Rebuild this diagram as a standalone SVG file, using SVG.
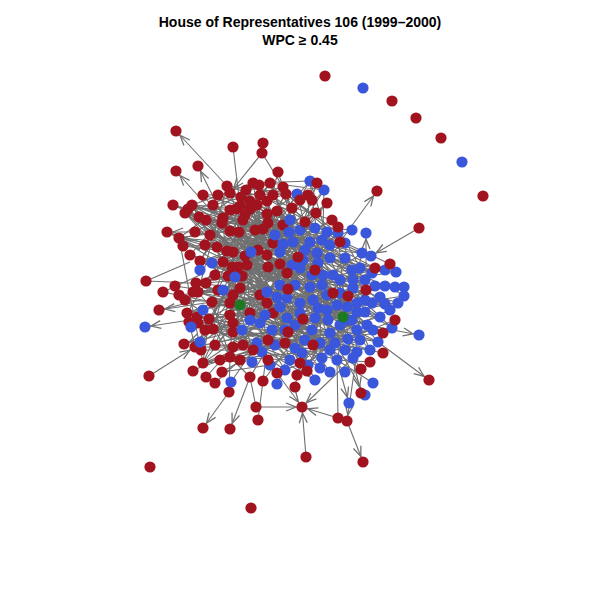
<svg xmlns="http://www.w3.org/2000/svg" width="600" height="600" viewBox="0 0 600 600">
<style>
.e path{stroke:#707070;stroke-width:1.1;fill:none}
.e .a{marker-end:url(#ah)}
.r circle{fill:#A1141F}
.b circle{fill:#3A56DB}
.g circle{fill:#1E7A22}
circle{r:5.6px}
text{font-family:"Liberation Sans",Arial,sans-serif;font-weight:bold;font-size:14px;text-anchor:middle;fill:#000}
</style>
<defs>
<marker id="ah" markerUnits="userSpaceOnUse" markerWidth="20" markerHeight="20" refX="16" refY="4" orient="auto" overflow="visible"><path d="M0,0L10,4L0,8" fill="none" stroke="#707070" stroke-width="1.3"/></marker>
</defs>
<rect width="600" height="600" fill="#fff"/>
<text x="300" y="27">House of Representatives 106 (1999–2000)</text>
<text x="300" y="45">WPC ≥ 0.45</text>
<g id="edges" class="e">
<path d="M227,186L297,194M253,183L310,181M270,183L324,190M286,194L338,233M250,201L289,232M236,209L283,244M277,211L293,242M268,223L322,240M192,205L345,243M185,213L362,253M206,220L372,273M222,223L360,268M239,232L340,280M263,229L317,253M179,238L303,260M217,247L295,285M245,256L327,295M267,255L310,287M200,261L385,286M232,267L353,288M227,186L283,244M253,183L293,242M270,183L322,240M286,194L345,243M250,201L362,253M236,209L372,273M277,211L360,268M268,223L340,280M192,205L317,253M185,213L303,260M206,220L295,285M222,223L327,295M239,232L310,287M263,229L385,286M179,238L353,288M217,247L297,194M245,256L310,181M267,255L324,190M200,261L338,233M232,267L289,232"/>
<path d="M247,265L287,318M228,276L300,313M196,283L312,330M198,292L328,320M212,302L330,333M187,313L320,343M209,319L348,339M213,329L357,330M233,295L367,325M230,315L378,342M233,332L370,350M250,313L357,352M260,295L337,360M273,313L322,358M243,345L308,365M230,357L290,360M195,347L357,312M203,363L347,307M253,350L380,317M268,340L313,300M247,265L357,330M228,276L367,325M196,283L378,342M198,292L370,350M212,302L357,352M187,313L337,360M209,319L322,358M213,329L308,365M233,295L290,360M230,315L357,312M233,332L347,307M250,313L380,317M260,295L313,300M273,313L287,318M243,345L300,313M230,357L312,330M195,347L328,320M203,363L330,333M253,350L320,343M268,340L348,339"/>
<path d="M227,186L198,292M253,183L212,302M270,183L187,313M286,194L209,319M250,201L213,329M236,209L233,295M277,211L230,315M268,223L233,332M192,205L250,313M185,213L260,295M206,220L273,313M222,223L243,345M239,232L230,357M263,229L195,347M179,238L203,363M217,247L253,350M245,256L268,340M267,255L247,265M200,261L228,276M232,267L196,283"/>
<path d="M297,194L328,320M310,181L330,333M324,190L320,343M338,233L348,339M289,232L357,330M283,244L367,325M293,242L378,342M322,240L370,350M345,243L357,352M362,253L337,360M372,273L322,358M360,268L308,365M340,280L290,360M317,253L357,312M303,260L347,307M295,285L380,317M327,295L313,300M310,287L287,318M385,286L300,313M353,288L312,330"/>
<path d="M227,186L370,350M253,183L357,352M270,183L337,360M286,194L322,358M250,201L308,365M236,209L290,360M277,211L357,312M268,223L347,307M192,205L380,317M185,213L313,300M206,220L287,318M222,223L300,313M239,232L312,330M263,229L328,320M179,238L330,333M217,247L320,343M245,256L348,339M267,255L357,330M200,261L367,325M232,267L378,342"/>
<path d="M247,265L340,280M228,276L317,253M196,283L303,260M198,292L295,285M212,302L327,295M187,313L310,287M209,319L385,286M213,329L353,288M233,295L297,194M230,315L310,181M233,332L324,190M250,313L338,233M260,295L289,232M273,313L283,244M243,345L293,242M230,357L322,240M195,347L345,243M203,363L362,253M253,350L372,273M268,340L360,268"/>
<path d="M332,220L227,186M340,242L253,183M298,257L270,183M315,270L286,194M287,273L250,201M288,289L236,209M333,293L277,211M366,290L268,223M375,268L192,205M303,319L185,213M313,345L206,220M288,332L222,223M300,363L239,232M361,369L263,229M383,333L179,238M316,213L217,247M308,195L245,256M327,203L267,255M332,220L247,265M340,242L228,276M298,257L196,283M315,270L198,292M287,273L212,302M288,289L187,313M333,293L209,319M366,290L213,329M375,268L233,295M303,319L230,315M313,345L233,332M288,332L250,313M300,363L260,295M361,369L273,313M383,333L243,345M316,213L230,357M308,195L195,347M327,203L203,363"/>
<path d="M227,186L268,223M253,183L192,205M270,183L185,213M286,194L206,220M250,201L222,223M236,209L239,232M277,211L263,229M268,223L179,238M192,205L217,247M185,213L245,256M206,220L267,255M222,223L200,261M239,232L232,267M263,229L227,186M179,238L253,183M217,247L270,183M245,256L286,194M267,255L250,201M200,261L236,209M232,267L277,211M247,265L230,315M228,276L233,332M196,283L250,313M198,292L260,295M212,302L273,313M187,313L243,345M209,319L230,357M213,329L195,347M233,295L203,363M230,315L253,350M233,332L268,340M250,313L247,265M260,295L228,276M273,313L196,283M243,345L198,292M230,357L212,302M195,347L187,313M203,363L209,319M253,350L213,329M268,340L233,295"/>
<path d="M210,235L345,258M195,232L352,270M205,245L365,280M190,255L348,320M215,275L365,312M218,290L372,303M205,330L360,340M215,345L345,350M220,360L330,350M222,372L315,318M185,300L318,308M245,240L337,305M240,245L292,265M253,270L330,258M262,272L305,250M255,240L318,263M245,215L312,275M213,205L322,285M218,195L300,230M203,195L315,228M260,195L327,232M273,195L290,220M243,220L352,320M273,243L390,310M283,225L392,328M210,235L373,330M195,232L385,270M205,245L353,280M190,255L365,300M215,275L295,325M218,290L305,340M205,330L295,348M215,345L275,345M220,360L262,352M222,372L270,365M185,300L285,370M245,240L315,380M240,245L330,372M253,270L345,372M262,272L250,320M255,240L265,315M245,215L275,235M213,205L263,240M218,195L250,244M203,195L270,280M260,195L258,285"/>
<path d="M227,186L250,244M230,193L290,220M253,183L263,240M259,185L275,235M270,183L243,220M283,187L213,205M286,194L203,195M267,201L210,235M250,201L195,232M240,206L205,245M230,210L190,255M250,209L215,275M257,205L218,290M277,211L185,300M267,214L205,330M268,223L215,345M192,205L253,270M188,209L262,272M185,213L255,240M199,217L273,243M206,220L283,225M223,218L300,230M222,223L315,228M230,231L327,232M305,250L352,230M318,263L372,303M330,258L390,310M345,258L295,325M352,270L305,340M365,280L295,348M348,320L270,365M360,340L285,370M330,350L315,228M315,318L327,232M318,308L290,220M337,305L300,230M292,265L392,328M312,275L373,330M322,285L385,270"/>
<path d="M240,206L330,258M250,209L345,258M257,205L318,263M267,214L352,270M268,223L365,280M277,211L312,275M286,194L322,285M283,187L300,268M270,183L303,260M259,185L292,265M246,190L280,285M241,197L295,285M230,210L287,298M223,218L300,303M222,223L313,300M230,231L327,310M239,232L318,308M255,230L337,305M263,229L348,320M243,220L340,325M245,256L352,320M258,250L365,312M267,255L372,303M260,258L380,297M232,267L357,303M238,267L347,307M247,265L327,310M268,267L315,318M280,264L295,325M228,276L312,330M242,276L305,340M233,295L295,348M240,288L302,353M230,303L290,360M250,313L285,370M260,295L308,365M267,303L320,368M273,313L330,350M233,323L330,372M233,332L315,380M243,345L345,350M253,350L360,340M268,340L373,330M285,343L392,328M288,332L385,304M303,319L398,303M313,345L390,310M300,363L365,312M297,375L352,320M307,371L348,320M277,373L337,305M263,381L318,308M250,377L312,275M240,360L322,285M230,357L300,268M215,345L292,265M213,329L305,250M198,323L318,263M187,313L330,258M196,283L345,258M206,283L352,270M198,292L365,280M212,302L372,303M209,319L380,297M200,261L300,230M217,247L315,228M227,251L327,232M233,252L290,220M223,262L338,233M206,220L352,230M199,217L322,240M192,205L310,242M185,213L330,245M183,246L345,243M179,238L362,253"/>
<path d="M233,147L240,206M263,143L262,153M262,153L283,187M278,172L283,187M278,172L267,214M173,205L223,218M173,205L206,220M167,232L217,247M146,281L196,283M163,292L212,302M175,286L233,295M179,295L240,288M184,344L233,332M193,371L243,345M258,420L263,381M256,407L250,377M338,418L337,360M396,272L360,268M396,272L340,280M404,287L353,288M404,296L357,303M398,303L347,307M385,304L340,293M395,287L327,295M373,383L337,360M365,395L330,333M395,320L348,339M383,333L340,323M383,353L335,343M370,362L337,360M310,181L330,245M317,183L297,240M375,268L322,240M390,264L345,243M390,264L340,280M308,195L310,250M327,203L283,244M332,220L280,252M250,377L230,357M263,381L268,340M229,392L230,357M215,383L240,360M206,377L233,347M277,384L290,360M295,387L300,363M297,375L313,345M307,371L320,343M231,382L253,350M193,370L230,357M183,246L233,252M179,238L230,231M185,213L230,231M188,209L236,209M192,205L250,209M200,261L245,256M196,283L240,288M198,292L230,303M187,313L230,315M197,317L233,323M189,322L233,332M198,323L242,330M195,347L233,347M201,350L253,350M203,363L240,360M159,310L200,300M146,281L190,262M163,292L200,275M167,232L200,250M375,286L404,286M385,286L404,295M380,297L398,303M338,227L360,268M338,227L300,268"/>
<path class="a" d="M227,186L176,131"/>
<path class="a" d="M222,223L176,171"/>
<path class="a" d="M230,231L198,166"/>
<path class="a" d="M262,153L230,193"/>
<path class="a" d="M239,232L167,232"/>
<path class="a" d="M212,302L159,310"/>
<path class="a" d="M209,317L145,327"/>
<path class="a" d="M149,376L195,347"/>
<path class="a" d="M233,323L184,344"/>
<path class="a" d="M229,392L203,428"/>
<path class="a" d="M250,377L230,429"/>
<path class="a" d="M256,407L302,407"/>
<path class="a" d="M306,457L302,407"/>
<path class="a" d="M338,418L302,407"/>
<path class="a" d="M277,373L302,407"/>
<path class="a" d="M353,358L302,407"/>
<path class="a" d="M347,421L363,462"/>
<path class="a" d="M378,342L429,380"/>
<path class="a" d="M367,325L419,335"/>
<path class="a" d="M340,242L377,191"/>
<path class="a" d="M419,228L371,256"/>
<path class="a" d="M366,290L366,233"/>
<path class="a" d="M337,360L349,403"/>
<path class="a" d="M348,339L361,393"/>
<path class="a" d="M357,352L347,421"/>
</g>
<g id="nodes">
<g id="r1" class="r"><circle cx="325" cy="76" r="5.6"/></g>
<g id="b1" class="b"><circle cx="363" cy="88" r="5.6"/></g>
<g id="r2" class="r"><circle cx="392" cy="101" r="5.6"/></g>
<g id="r3" class="r"><circle cx="416" cy="118" r="5.6"/></g>
<g id="r4" class="r"><circle cx="441" cy="138" r="5.6"/></g>
<g id="b2" class="b"><circle cx="462" cy="162" r="5.6"/></g>
<g id="r5" class="r"><circle cx="483" cy="196" r="5.6"/></g>
<g id="r6" class="r"><circle cx="150" cy="467" r="5.6"/></g>
<g id="r7" class="r"><circle cx="251" cy="508" r="5.6"/></g>
<g id="r8" class="r"><circle cx="176" cy="131" r="5.6"/></g>
<g id="r9" class="r"><circle cx="233" cy="147" r="5.6"/></g>
<g id="r10" class="r"><circle cx="263" cy="143" r="5.6"/></g>
<g id="r11" class="r"><circle cx="262" cy="153" r="5.6"/></g>
<g id="r12" class="r"><circle cx="176" cy="171" r="5.6"/></g>
<g id="r13" class="r"><circle cx="198" cy="166" r="5.6"/></g>
<g id="r14" class="r"><circle cx="278" cy="172" r="5.6"/></g>
<g id="r15" class="r"><circle cx="173" cy="205" r="5.6"/></g>
<g id="r16" class="r"><circle cx="167" cy="232" r="5.6"/></g>
<g id="r17" class="r"><circle cx="146" cy="281" r="5.6"/></g>
<g id="r18" class="r"><circle cx="163" cy="292" r="5.6"/></g>
<g id="r19" class="r"><circle cx="159" cy="310" r="5.6"/></g>
<g id="r20" class="r"><circle cx="149" cy="376" r="5.6"/></g>
<g id="r21" class="r"><circle cx="184" cy="344" r="5.6"/></g>
<g id="r22" class="r"><circle cx="193" cy="371" r="5.6"/></g>
<g id="r23" class="r"><circle cx="203" cy="428" r="5.6"/></g>
<g id="r24" class="r"><circle cx="230" cy="429" r="5.6"/></g>
<g id="r25" class="r"><circle cx="258" cy="420" r="5.6"/></g>
<g id="r26" class="r"><circle cx="256" cy="407" r="5.6"/></g>
<g id="r27" class="r"><circle cx="302" cy="407" r="5.6"/></g>
<g id="r28" class="r"><circle cx="306" cy="457" r="5.6"/></g>
<g id="r29" class="r"><circle cx="338" cy="418" r="5.6"/></g>
<g id="r30" class="r"><circle cx="347" cy="421" r="5.6"/></g>
<g id="r31" class="r"><circle cx="363" cy="462" r="5.6"/></g>
<g id="r32" class="r"><circle cx="429" cy="380" r="5.6"/></g>
<g id="r33" class="r"><circle cx="377" cy="191" r="5.6"/></g>
<g id="r34" class="r"><circle cx="419" cy="228" r="5.6"/></g>
<g id="r35" class="r"><circle cx="175" cy="286" r="5.6"/></g>
<g id="r36" class="r"><circle cx="179" cy="295" r="5.6"/></g>
<g id="r37" class="r"><circle cx="227" cy="186" r="5.6"/></g>
<g id="r38" class="r"><circle cx="230" cy="193" r="5.6"/></g>
<g id="r39" class="r"><circle cx="253" cy="183" r="5.6"/></g>
<g id="r40" class="r"><circle cx="259" cy="185" r="5.6"/></g>
<g id="r41" class="r"><circle cx="270" cy="183" r="5.6"/></g>
<g id="r42" class="r"><circle cx="283" cy="187" r="5.6"/></g>
<g id="r43" class="r"><circle cx="286" cy="194" r="5.6"/></g>
<g id="r44" class="r"><circle cx="267" cy="201" r="5.6"/></g>
<g id="r45" class="r"><circle cx="250" cy="201" r="5.6"/></g>
<g id="r46" class="r"><circle cx="240" cy="206" r="5.6"/></g>
<g id="r47" class="r"><circle cx="236" cy="209" r="5.6"/></g>
<g id="r48" class="r"><circle cx="230" cy="210" r="5.6"/></g>
<g id="r49" class="r"><circle cx="250" cy="209" r="5.6"/></g>
<g id="r50" class="r"><circle cx="257" cy="205" r="5.6"/></g>
<g id="r51" class="r"><circle cx="277" cy="211" r="5.6"/></g>
<g id="r52" class="r"><circle cx="267" cy="214" r="5.6"/></g>
<g id="r53" class="r"><circle cx="268" cy="223" r="5.6"/></g>
<g id="r54" class="r"><circle cx="192" cy="205" r="5.6"/></g>
<g id="r55" class="r"><circle cx="188" cy="209" r="5.6"/></g>
<g id="r56" class="r"><circle cx="185" cy="213" r="5.6"/></g>
<g id="r57" class="r"><circle cx="199" cy="217" r="5.6"/></g>
<g id="r58" class="r"><circle cx="206" cy="220" r="5.6"/></g>
<g id="r59" class="r"><circle cx="223" cy="218" r="5.6"/></g>
<g id="r60" class="r"><circle cx="222" cy="223" r="5.6"/></g>
<g id="r61" class="r"><circle cx="230" cy="231" r="5.6"/></g>
<g id="r62" class="r"><circle cx="239" cy="232" r="5.6"/></g>
<g id="r63" class="r"><circle cx="255" cy="230" r="5.6"/></g>
<g id="r64" class="r"><circle cx="263" cy="229" r="5.6"/></g>
<g id="r65" class="r"><circle cx="179" cy="238" r="5.6"/></g>
<g id="r66" class="r"><circle cx="183" cy="246" r="5.6"/></g>
<g id="r67" class="r"><circle cx="217" cy="247" r="5.6"/></g>
<g id="r68" class="r"><circle cx="227" cy="251" r="5.6"/></g>
<g id="r69" class="r"><circle cx="233" cy="252" r="5.6"/></g>
<g id="r70" class="r"><circle cx="245" cy="256" r="5.6"/></g>
<g id="r71" class="r"><circle cx="258" cy="250" r="5.6"/></g>
<g id="r72" class="r"><circle cx="267" cy="255" r="5.6"/></g>
<g id="r74" class="r"><circle cx="200" cy="261" r="5.6"/></g>
<g id="r75" class="r"><circle cx="223" cy="262" r="5.6"/></g>
<g id="r76" class="r"><circle cx="232" cy="267" r="5.6"/></g>
<g id="r77" class="r"><circle cx="238" cy="267" r="5.6"/></g>
<g id="r78" class="r"><circle cx="247" cy="265" r="5.6"/></g>
<g id="r79" class="r"><circle cx="268" cy="267" r="5.6"/></g>
<g id="r80" class="r"><circle cx="280" cy="264" r="5.6"/></g>
<g id="r81" class="r"><circle cx="228" cy="276" r="5.6"/></g>
<g id="r82" class="r"><circle cx="242" cy="276" r="5.6"/></g>
<g id="r83" class="r"><circle cx="196" cy="283" r="5.6"/></g>
<g id="r84" class="r"><circle cx="206" cy="283" r="5.6"/></g>
<g id="r85" class="r"><circle cx="198" cy="292" r="5.6"/></g>
<g id="r86" class="r"><circle cx="212" cy="302" r="5.6"/></g>
<g id="r87" class="r"><circle cx="187" cy="313" r="5.6"/></g>
<g id="r88" class="r"><circle cx="197" cy="317" r="5.6"/></g>
<g id="r89" class="r"><circle cx="209" cy="319" r="5.6"/></g>
<g id="r90" class="r"><circle cx="213" cy="329" r="5.6"/></g>
<g id="r91" class="r"><circle cx="233" cy="295" r="5.6"/></g>
<g id="r92" class="r"><circle cx="240" cy="288" r="5.6"/></g>
<g id="r93" class="r"><circle cx="230" cy="303" r="5.6"/></g>
<g id="r94" class="r"><circle cx="230" cy="315" r="5.6"/></g>
<g id="r95" class="r"><circle cx="233" cy="323" r="5.6"/></g>
<g id="r96" class="r"><circle cx="233" cy="332" r="5.6"/></g>
<g id="r97" class="r"><circle cx="250" cy="313" r="5.6"/></g>
<g id="r98" class="r"><circle cx="260" cy="295" r="5.6"/></g>
<g id="r99" class="r"><circle cx="267" cy="303" r="5.6"/></g>
<g id="r100" class="r"><circle cx="273" cy="313" r="5.6"/></g>
<g id="r101" class="r"><circle cx="243" cy="345" r="5.6"/></g>
<g id="r102" class="r"><circle cx="233" cy="347" r="5.6"/></g>
<g id="r103" class="r"><circle cx="230" cy="357" r="5.6"/></g>
<g id="r104" class="r"><circle cx="240" cy="360" r="5.6"/></g>
<g id="r105" class="r"><circle cx="195" cy="347" r="5.6"/></g>
<g id="r106" class="r"><circle cx="201" cy="350" r="5.6"/></g>
<g id="r107" class="r"><circle cx="193" cy="292" r="5.6"/></g>
<g id="r108" class="r"><circle cx="189" cy="322" r="5.6"/></g>
<g id="r109" class="r"><circle cx="198" cy="323" r="5.6"/></g>
<g id="r110" class="r"><circle cx="203" cy="363" r="5.6"/></g>
<g id="r111" class="r"><circle cx="206" cy="377" r="5.6"/></g>
<g id="r112" class="r"><circle cx="215" cy="383" r="5.6"/></g>
<g id="r113" class="r"><circle cx="229" cy="392" r="5.6"/></g>
<g id="r114" class="r"><circle cx="250" cy="377" r="5.6"/></g>
<g id="r115" class="r"><circle cx="263" cy="381" r="5.6"/></g>
<g id="r116" class="r"><circle cx="246" cy="190" r="5.6"/></g>
<g id="r117" class="r"><circle cx="241" cy="197" r="5.6"/></g>
<g id="r156" class="r"><circle cx="210" cy="235" r="5.6"/></g>
<g id="r157" class="r"><circle cx="195" cy="232" r="5.6"/></g>
<g id="r158" class="r"><circle cx="205" cy="245" r="5.6"/></g>
<g id="r159" class="r"><circle cx="190" cy="255" r="5.6"/></g>
<g id="r160" class="r"><circle cx="215" cy="275" r="5.6"/></g>
<g id="r161" class="r"><circle cx="218" cy="290" r="5.6"/></g>
<g id="r162" class="r"><circle cx="205" cy="330" r="5.6"/></g>
<g id="r163" class="r"><circle cx="215" cy="345" r="5.6"/></g>
<g id="r164" class="r"><circle cx="220" cy="360" r="5.6"/></g>
<g id="r165" class="r"><circle cx="222" cy="372" r="5.6"/></g>
<g id="r166" class="r"><circle cx="185" cy="300" r="5.6"/></g>
<g id="r171" class="r"><circle cx="245" cy="215" r="5.6"/></g>
<g id="r172" class="r"><circle cx="213" cy="205" r="5.6"/></g>
<g id="r173" class="r"><circle cx="218" cy="195" r="5.6"/></g>
<g id="r174" class="r"><circle cx="203" cy="195" r="5.6"/></g>
<g id="r175" class="r"><circle cx="260" cy="195" r="5.6"/></g>
<g id="r176" class="r"><circle cx="273" cy="195" r="5.6"/></g>
<g id="r177" class="r"><circle cx="243" cy="220" r="5.6"/></g>
<g id="r178" class="r"><circle cx="273" cy="243" r="5.6"/></g>
<g id="r179" class="r"><circle cx="283" cy="225" r="5.6"/></g>
<g id="b3" class="b"><circle cx="145" cy="327" r="5.6"/></g>
<g id="b4" class="b"><circle cx="419" cy="335" r="5.6"/></g>
<g id="b5" class="b"><circle cx="366" cy="233" r="5.6"/></g>
<g id="b6" class="b"><circle cx="396" cy="272" r="5.6"/></g>
<g id="b7" class="b"><circle cx="404" cy="287" r="5.6"/></g>
<g id="b8" class="b"><circle cx="404" cy="296" r="5.6"/></g>
<g id="b9" class="b"><circle cx="373" cy="383" r="5.6"/></g>
<g id="b10" class="b"><circle cx="365" cy="395" r="5.6"/></g>
<g id="b11" class="b"><circle cx="349" cy="403" r="5.6"/></g>
<g id="b12" class="b"><circle cx="231" cy="382" r="5.6"/></g>
<g id="b13" class="b"><circle cx="297" cy="194" r="5.6"/></g>
<g id="b14" class="b"><circle cx="310" cy="181" r="5.6"/></g>
<g id="b15" class="b"><circle cx="324" cy="190" r="5.6"/></g>
<g id="b16" class="b"><circle cx="338" cy="233" r="5.6"/></g>
<g id="b17" class="b"><circle cx="289" cy="232" r="5.6"/></g>
<g id="b18" class="b"><circle cx="283" cy="244" r="5.6"/></g>
<g id="b19" class="b"><circle cx="280" cy="252" r="5.6"/></g>
<g id="b20" class="b"><circle cx="251" cy="252" r="5.6"/></g>
<g id="b21" class="b"><circle cx="212" cy="263" r="5.6"/></g>
<g id="b22" class="b"><circle cx="200" cy="270" r="5.6"/></g>
<g id="b23" class="b"><circle cx="235" cy="277" r="5.6"/></g>
<g id="b24" class="b"><circle cx="293" cy="242" r="5.6"/></g>
<g id="b25" class="b"><circle cx="310" cy="242" r="5.6"/></g>
<g id="b26" class="b"><circle cx="322" cy="240" r="5.6"/></g>
<g id="b27" class="b"><circle cx="330" cy="245" r="5.6"/></g>
<g id="b28" class="b"><circle cx="345" cy="243" r="5.6"/></g>
<g id="b29" class="b"><circle cx="362" cy="253" r="5.6"/></g>
<g id="b30" class="b"><circle cx="371" cy="256" r="5.6"/></g>
<g id="b31" class="b"><circle cx="360" cy="268" r="5.6"/></g>
<g id="b32" class="b"><circle cx="372" cy="273" r="5.6"/></g>
<g id="b33" class="b"><circle cx="375" cy="286" r="5.6"/></g>
<g id="b34" class="b"><circle cx="385" cy="286" r="5.6"/></g>
<g id="b35" class="b"><circle cx="395" cy="287" r="5.6"/></g>
<g id="b36" class="b"><circle cx="380" cy="297" r="5.6"/></g>
<g id="b37" class="b"><circle cx="385" cy="304" r="5.6"/></g>
<g id="b38" class="b"><circle cx="398" cy="303" r="5.6"/></g>
<g id="b39" class="b"><circle cx="353" cy="288" r="5.6"/></g>
<g id="b40" class="b"><circle cx="357" cy="303" r="5.6"/></g>
<g id="b41" class="b"><circle cx="340" cy="280" r="5.6"/></g>
<g id="b42" class="b"><circle cx="333" cy="275" r="5.6"/></g>
<g id="b43" class="b"><circle cx="323" cy="275" r="5.6"/></g>
<g id="b44" class="b"><circle cx="317" cy="253" r="5.6"/></g>
<g id="b45" class="b"><circle cx="303" cy="260" r="5.6"/></g>
<g id="b46" class="b"><circle cx="300" cy="268" r="5.6"/></g>
<g id="b47" class="b"><circle cx="295" cy="285" r="5.6"/></g>
<g id="b48" class="b"><circle cx="310" cy="287" r="5.6"/></g>
<g id="b49" class="b"><circle cx="313" cy="300" r="5.6"/></g>
<g id="b50" class="b"><circle cx="327" cy="295" r="5.6"/></g>
<g id="b51" class="b"><circle cx="340" cy="293" r="5.6"/></g>
<g id="b52" class="b"><circle cx="347" cy="307" r="5.6"/></g>
<g id="b53" class="b"><circle cx="357" cy="312" r="5.6"/></g>
<g id="b54" class="b"><circle cx="327" cy="310" r="5.6"/></g>
<g id="b55" class="b"><circle cx="300" cy="303" r="5.6"/></g>
<g id="b56" class="b"><circle cx="287" cy="298" r="5.6"/></g>
<g id="b57" class="b"><circle cx="287" cy="318" r="5.6"/></g>
<g id="b58" class="b"><circle cx="300" cy="313" r="5.6"/></g>
<g id="b59" class="b"><circle cx="312" cy="330" r="5.6"/></g>
<g id="b60" class="b"><circle cx="328" cy="320" r="5.6"/></g>
<g id="b61" class="b"><circle cx="340" cy="325" r="5.6"/></g>
<g id="b62" class="b"><circle cx="330" cy="333" r="5.6"/></g>
<g id="b63" class="b"><circle cx="320" cy="343" r="5.6"/></g>
<g id="b64" class="b"><circle cx="335" cy="343" r="5.6"/></g>
<g id="b65" class="b"><circle cx="348" cy="339" r="5.6"/></g>
<g id="b66" class="b"><circle cx="357" cy="330" r="5.6"/></g>
<g id="b67" class="b"><circle cx="367" cy="325" r="5.6"/></g>
<g id="b68" class="b"><circle cx="380" cy="317" r="5.6"/></g>
<g id="b69" class="b"><circle cx="378" cy="342" r="5.6"/></g>
<g id="b70" class="b"><circle cx="370" cy="350" r="5.6"/></g>
<g id="b71" class="b"><circle cx="357" cy="352" r="5.6"/></g>
<g id="b72" class="b"><circle cx="353" cy="358" r="5.6"/></g>
<g id="b73" class="b"><circle cx="337" cy="360" r="5.6"/></g>
<g id="b74" class="b"><circle cx="322" cy="358" r="5.6"/></g>
<g id="b75" class="b"><circle cx="320" cy="368" r="5.6"/></g>
<g id="b76" class="b"><circle cx="308" cy="365" r="5.6"/></g>
<g id="b77" class="b"><circle cx="290" cy="360" r="5.6"/></g>
<g id="b78" class="b"><circle cx="302" cy="353" r="5.6"/></g>
<g id="b79" class="b"><circle cx="223" cy="290" r="5.6"/></g>
<g id="b80" class="b"><circle cx="203" cy="310" r="5.6"/></g>
<g id="b81" class="b"><circle cx="191" cy="327" r="5.6"/></g>
<g id="b82" class="b"><circle cx="200" cy="342" r="5.6"/></g>
<g id="b83" class="b"><circle cx="242" cy="330" r="5.6"/></g>
<g id="b84" class="b"><circle cx="267" cy="292" r="5.6"/></g>
<g id="b85" class="b"><circle cx="280" cy="285" r="5.6"/></g>
<g id="b86" class="b"><circle cx="277" cy="297" r="5.6"/></g>
<g id="b87" class="b"><circle cx="280" cy="307" r="5.6"/></g>
<g id="b88" class="b"><circle cx="260" cy="323" r="5.6"/></g>
<g id="b89" class="b"><circle cx="257" cy="343" r="5.6"/></g>
<g id="b90" class="b"><circle cx="272" cy="330" r="5.6"/></g>
<g id="b91" class="b"><circle cx="252" cy="362" r="5.6"/></g>
<g id="b92" class="b"><circle cx="285" cy="330" r="5.6"/></g>
<g id="b93" class="b"><circle cx="277" cy="384" r="5.6"/></g>
<g id="b94" class="b"><circle cx="305" cy="250" r="5.6"/></g>
<g id="b95" class="b"><circle cx="318" cy="263" r="5.6"/></g>
<g id="b96" class="b"><circle cx="330" cy="258" r="5.6"/></g>
<g id="b97" class="b"><circle cx="345" cy="258" r="5.6"/></g>
<g id="b98" class="b"><circle cx="352" cy="270" r="5.6"/></g>
<g id="b99" class="b"><circle cx="365" cy="280" r="5.6"/></g>
<g id="b100" class="b"><circle cx="348" cy="320" r="5.6"/></g>
<g id="b101" class="b"><circle cx="365" cy="312" r="5.6"/></g>
<g id="b102" class="b"><circle cx="372" cy="303" r="5.6"/></g>
<g id="b103" class="b"><circle cx="360" cy="340" r="5.6"/></g>
<g id="b104" class="b"><circle cx="345" cy="350" r="5.6"/></g>
<g id="b105" class="b"><circle cx="330" cy="350" r="5.6"/></g>
<g id="b106" class="b"><circle cx="315" cy="318" r="5.6"/></g>
<g id="b107" class="b"><circle cx="318" cy="308" r="5.6"/></g>
<g id="b108" class="b"><circle cx="337" cy="305" r="5.6"/></g>
<g id="b109" class="b"><circle cx="292" cy="265" r="5.6"/></g>
<g id="b112" class="b"><circle cx="295" cy="325" r="5.6"/></g>
<g id="b113" class="b"><circle cx="305" cy="340" r="5.6"/></g>
<g id="b114" class="b"><circle cx="295" cy="348" r="5.6"/></g>
<g id="b115" class="b"><circle cx="275" cy="345" r="5.6"/></g>
<g id="b116" class="b"><circle cx="262" cy="352" r="5.6"/></g>
<g id="b117" class="b"><circle cx="270" cy="365" r="5.6"/></g>
<g id="b118" class="b"><circle cx="285" cy="370" r="5.6"/></g>
<g id="b119" class="b"><circle cx="315" cy="380" r="5.6"/></g>
<g id="b120" class="b"><circle cx="330" cy="372" r="5.6"/></g>
<g id="b121" class="b"><circle cx="345" cy="372" r="5.6"/></g>
<g id="b122" class="b"><circle cx="312" cy="275" r="5.6"/></g>
<g id="b123" class="b"><circle cx="322" cy="285" r="5.6"/></g>
<g id="b124" class="b"><circle cx="352" cy="230" r="5.6"/></g>
<g id="b125" class="b"><circle cx="300" cy="230" r="5.6"/></g>
<g id="b126" class="b"><circle cx="315" cy="228" r="5.6"/></g>
<g id="b127" class="b"><circle cx="327" cy="232" r="5.6"/></g>
<g id="b128" class="b"><circle cx="290" cy="220" r="5.6"/></g>
<g id="b129" class="b"><circle cx="275" cy="235" r="5.6"/></g>
<g id="b131" class="b"><circle cx="250" cy="320" r="5.6"/></g>
<g id="b132" class="b"><circle cx="265" cy="315" r="5.6"/></g>
<g id="b133" class="b"><circle cx="352" cy="320" r="5.6"/></g>
<g id="b134" class="b"><circle cx="390" cy="310" r="5.6"/></g>
<g id="b135" class="b"><circle cx="392" cy="328" r="5.6"/></g>
<g id="b136" class="b"><circle cx="373" cy="330" r="5.6"/></g>
<g id="b137" class="b"><circle cx="385" cy="270" r="5.6"/></g>
<g id="b138" class="b"><circle cx="353" cy="280" r="5.6"/></g>
<g id="b139" class="b"><circle cx="365" cy="300" r="5.6"/></g>
<g id="r118" class="r"><circle cx="253" cy="350" r="5.6"/></g>
<g id="r119" class="r"><circle cx="268" cy="340" r="5.6"/></g>
<g id="r120" class="r"><circle cx="268" cy="360" r="5.6"/></g>
<g id="r121" class="r"><circle cx="277" cy="373" r="5.6"/></g>
<g id="r122" class="r"><circle cx="295" cy="387" r="5.6"/></g>
<g id="r123" class="r"><circle cx="297" cy="375" r="5.6"/></g>
<g id="r124" class="r"><circle cx="307" cy="371" r="5.6"/></g>
<g id="r125" class="r"><circle cx="300" cy="363" r="5.6"/></g>
<g id="r126" class="r"><circle cx="313" cy="345" r="5.6"/></g>
<g id="r127" class="r"><circle cx="288" cy="332" r="5.6"/></g>
<g id="r128" class="r"><circle cx="285" cy="343" r="5.6"/></g>
<g id="r129" class="r"><circle cx="303" cy="319" r="5.6"/></g>
<g id="r130" class="r"><circle cx="361" cy="393" r="5.6"/></g>
<g id="r131" class="r"><circle cx="361" cy="369" r="5.6"/></g>
<g id="r132" class="r"><circle cx="370" cy="362" r="5.6"/></g>
<g id="r133" class="r"><circle cx="383" cy="353" r="5.6"/></g>
<g id="r134" class="r"><circle cx="383" cy="333" r="5.6"/></g>
<g id="r135" class="r"><circle cx="395" cy="320" r="5.6"/></g>
<g id="r136" class="r"><circle cx="332" cy="220" r="5.6"/></g>
<g id="r137" class="r"><circle cx="338" cy="227" r="5.6"/></g>
<g id="r138" class="r"><circle cx="340" cy="242" r="5.6"/></g>
<g id="r139" class="r"><circle cx="298" cy="257" r="5.6"/></g>
<g id="r140" class="r"><circle cx="315" cy="270" r="5.6"/></g>
<g id="r141" class="r"><circle cx="287" cy="273" r="5.6"/></g>
<g id="r142" class="r"><circle cx="288" cy="289" r="5.6"/></g>
<g id="r143" class="r"><circle cx="333" cy="293" r="5.6"/></g>
<g id="r144" class="r"><circle cx="348" cy="296" r="5.6"/></g>
<g id="r145" class="r"><circle cx="366" cy="290" r="5.6"/></g>
<g id="r146" class="r"><circle cx="375" cy="268" r="5.6"/></g>
<g id="r147" class="r"><circle cx="390" cy="264" r="5.6"/></g>
<g id="r148" class="r"><circle cx="327" cy="203" r="5.6"/></g>
<g id="r149" class="r"><circle cx="316" cy="213" r="5.6"/></g>
<g id="r150" class="r"><circle cx="308" cy="195" r="5.6"/></g>
<g id="r151" class="r"><circle cx="317" cy="183" r="5.6"/></g>
<g id="r152" class="r"><circle cx="300" cy="200" r="5.6"/></g>
<g id="r153" class="r"><circle cx="312" cy="200" r="5.6"/></g>
<g id="r154" class="r"><circle cx="292" cy="208" r="5.6"/></g>
<g id="r155" class="r"><circle cx="305" cy="222" r="5.6"/></g>
<g id="g1" class="g"><circle cx="240" cy="305" r="5.6"/></g>
<g id="g2" class="g"><circle cx="343" cy="317" r="5.6"/></g>
</g>
</svg>
